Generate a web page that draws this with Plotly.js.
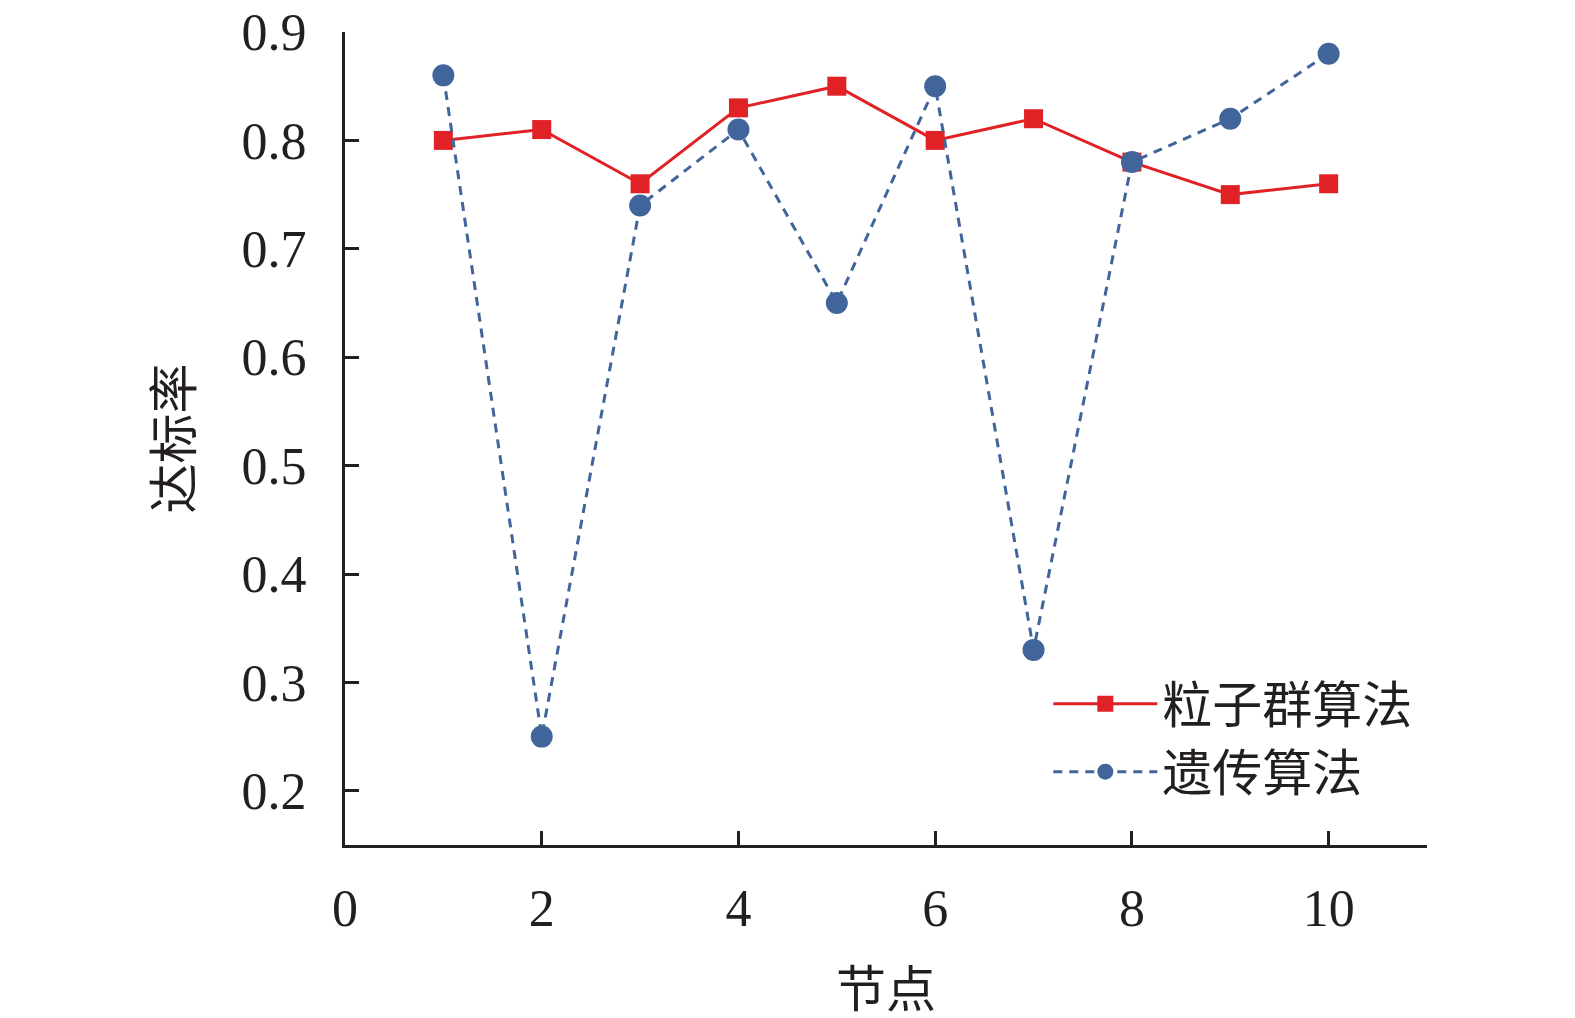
<!DOCTYPE html>
<html>
<head>
<meta charset="utf-8">
<script src="https://cdn.plot.ly/plotly-3.0.1.min.js"></script>
<style>
  html, body { margin: 0; padding: 0; background: #fff; }
  #chart { width: 1575px; height: 1018px; }
</style>
</head>
<body>
<div id="chart"></div>
<script>
var nodes = [1, 2, 3, 4, 5, 6, 7, 8, 9, 10];
var psoRate = [0.80, 0.81, 0.76, 0.83, 0.85, 0.80, 0.82, 0.78, 0.75, 0.76];
var gaRate = [0.86, 0.25, 0.74, 0.81, 0.65, 0.85, 0.33, 0.78, 0.82, 0.88];
var xTicks = [0, 2, 4, 6, 8, 10];
var yTicks = [0.2, 0.3, 0.4, 0.5, 0.6, 0.7, 0.8, 0.9];

var fontFam = '"Liberation Serif", "Times New Roman", "Noto Sans CJK SC", serif';
var axisColor = '#231f20';

var data = [
  {
    x: nodes, y: psoRate, name: '粒子群算法',
    type: 'scatter', mode: 'lines+markers',
    line: { color: '#e02126', width: 3 },
    marker: { symbol: 'square', size: 19, color: '#e02126' }
  },
  {
    x: nodes, y: gaRate, name: '遗传算法',
    type: 'scatter', mode: 'lines+markers',
    line: { color: '#41659a', width: 3, dash: '9px,7px' },
    marker: { symbol: 'circle', size: 22, color: '#41659a' }
  }
];

var layout = {
  width: 1575, height: 1018,
  margin: { l: 345, r: 148, t: 32, b: 173 },
  paper_bgcolor: '#fff', plot_bgcolor: '#fff',
  font: { family: fontFam, size: 50, color: axisColor },
  showlegend: true,
  legend: {
    x: 0.65, y: 0.132, xanchor: 'left', yanchor: 'middle',
    bgcolor: 'rgba(0,0,0,0)', itemwidth: 104,
    font: { family: fontFam, size: 50, color: axisColor },
    tracegroupgap: 0
  },
  xaxis: {
    range: [0, 11], tickvals: xTicks, ticktext: xTicks.map(String),
    showgrid: false, zeroline: false, automargin: false,
    showline: true, linecolor: axisColor, linewidth: 3,
    ticks: 'inside', ticklen: 14, tickwidth: 3, tickcolor: axisColor,
    ticklabelstandoff: 16,
    tickfont: { family: fontFam, size: 52, color: axisColor }
  },
  yaxis: {
    range: [0.15, 0.9], tickvals: yTicks, ticktext: yTicks.map(function (v) { return v.toFixed(1); }),
    showgrid: false, zeroline: false, automargin: false,
    showline: true, linecolor: axisColor, linewidth: 3,
    ticks: 'inside', ticklen: 14, tickwidth: 3, tickcolor: axisColor,
    ticklabelstandoff: 25,
    tickfont: { family: fontFam, size: 52, color: axisColor }
  },
  annotations: [
    {
      text: '节点', xref: 'paper', yref: 'paper', x: 0.5, y: -0.178,
      xanchor: 'center', yanchor: 'middle', showarrow: false,
      font: { family: fontFam, size: 50, color: axisColor }
    },
    {
      text: '达标率', xref: 'paper', yref: 'paper', x: -0.158, y: 0.5,
      xanchor: 'center', yanchor: 'middle', showarrow: false, textangle: -90,
      font: { family: fontFam, size: 50, color: axisColor }
    }
  ]
};

Plotly.newPlot('chart', data, layout, { displayModeBar: false, staticPlot: true });
</script>
</body>
</html>
